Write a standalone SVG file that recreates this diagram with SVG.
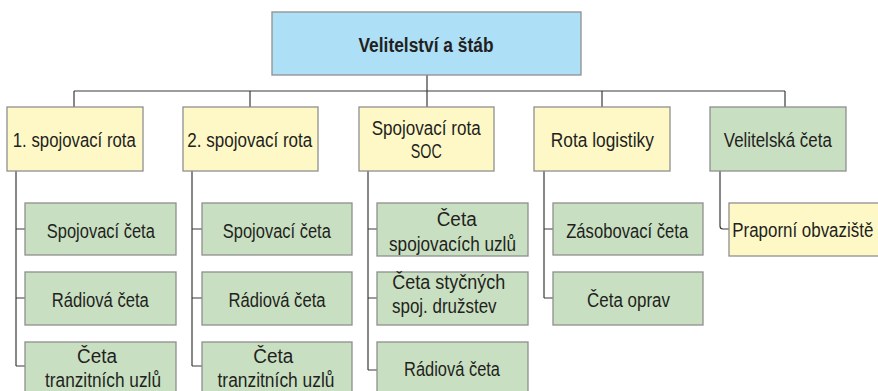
<svg xmlns="http://www.w3.org/2000/svg" width="878" height="391" viewBox="0 0 878 391">
<style>
.box{stroke:#8f8f8f;stroke-width:1.3}
.blue{fill:#ade0f7}
.yel{fill:#fef8c7}
.grn{fill:#c9dfc2}
.t{font-family:"Liberation Sans",Arial,sans-serif;font-size:20px;fill:#231f20;text-anchor:middle}
.s{text-anchor:start}
.b{font-weight:bold}
.ln{fill:none;stroke:#3a3a3a;stroke-width:1.2}
</style>
<rect width="878" height="391" fill="#fff"/>
<g id="connectors" class="ln">
<path d="M427 75V91M74 91H785M74 91V107M250 91V107M427 91V107M602 91V107M785 91V107"/>
<path d="M16 171V366M16 229H25M16 298H25M16 366H25"/>
<path d="M192 171V366M192 229H202M192 298H202M192 366H202"/>
<path d="M368 171V370M368 229H377M368 298H377M368 370H377"/>
<path d="M544 171V298M544 229H553M544 298H553"/>
<path d="M720 171V226Q720 229 723 229H729"/>
</g>
<g id="n-velitelstvi"><rect class="box blue" x="272" y="12" width="309" height="63"/><text class="t b" x="426" y="52" textLength="135" lengthAdjust="spacingAndGlyphs">Velitelství a štáb</text></g>
<g id="n-rota1"><rect class="box yel" x="7" y="107" width="136" height="64"/><text class="t" x="74.3" y="147" textLength="123" lengthAdjust="spacingAndGlyphs">1. spojovací rota</text></g>
<g id="n-rota2"><rect class="box yel" x="183" y="107" width="135" height="64"/><text class="t" x="249.8" y="147" textLength="125" lengthAdjust="spacingAndGlyphs">2. spojovací rota</text></g>
<g id="n-rotasoc"><rect class="box yel" x="359" y="107" width="135" height="64"/><text class="t" x="426.2" y="135" textLength="109" lengthAdjust="spacingAndGlyphs">Spojovací rota</text><text class="t" x="426.3" y="158" textLength="31" lengthAdjust="spacingAndGlyphs">SOC</text></g>
<g id="n-rotalog"><rect class="box yel" x="534" y="107" width="136" height="64"/><text class="t" x="602.3" y="147" textLength="103" lengthAdjust="spacingAndGlyphs">Rota logistiky</text></g>
<g id="n-velceta"><rect class="box grn" x="710" y="107" width="136" height="64"/><text class="t" x="777.8" y="147" textLength="108" lengthAdjust="spacingAndGlyphs">Velitelská četa</text></g>
<g id="n-c1-spoj"><rect class="box grn" x="25" y="203" width="151" height="52"/><text class="t" x="100.8" y="238" textLength="108" lengthAdjust="spacingAndGlyphs">Spojovací četa</text></g>
<g id="n-c1-rad"><rect class="box grn" x="25" y="272" width="151" height="53"/><text class="t" x="100.3" y="307" textLength="97" lengthAdjust="spacingAndGlyphs">Rádiová četa</text></g>
<g id="n-c1-tran"><rect class="box grn" x="25" y="342" width="151" height="55"/><text class="t" x="97" y="363" textLength="40" lengthAdjust="spacingAndGlyphs">Četa</text><text class="t" x="103" y="387" textLength="116" lengthAdjust="spacingAndGlyphs">tranzitních uzlů</text></g>
<g id="n-c2-spoj"><rect class="box grn" x="202" y="203" width="150" height="52"/><text class="t" x="276.8" y="238" textLength="108" lengthAdjust="spacingAndGlyphs">Spojovací četa</text></g>
<g id="n-c2-rad"><rect class="box grn" x="202" y="272" width="150" height="53"/><text class="t" x="277" y="307" textLength="97" lengthAdjust="spacingAndGlyphs">Rádiová četa</text></g>
<g id="n-c2-tran"><rect class="box grn" x="202" y="342" width="150" height="55"/><text class="t" x="273.3" y="363" textLength="40" lengthAdjust="spacingAndGlyphs">Četa</text><text class="t" x="276" y="387" textLength="117" lengthAdjust="spacingAndGlyphs">tranzitních uzlů</text></g>
<g id="n-c3-uzly"><rect class="box grn" x="377" y="203" width="151" height="53"/><text class="t" x="456.7" y="226" textLength="40" lengthAdjust="spacingAndGlyphs">Četa</text><text class="t" x="452.5" y="251" textLength="127" lengthAdjust="spacingAndGlyphs">spojovacích uzlů</text></g>
<g id="n-c3-styc"><rect class="box grn" x="377" y="272" width="151" height="53"/><text class="t s" x="392.3" y="289" textLength="113" lengthAdjust="spacingAndGlyphs">Četa styčných</text><text class="t s" x="392" y="313" textLength="104.6" lengthAdjust="spacingAndGlyphs">spoj. družstev</text></g>
<g id="n-c3-rad"><rect class="box grn" x="377" y="342" width="151" height="55"/><text class="t" x="452" y="376" textLength="96" lengthAdjust="spacingAndGlyphs">Rádiová četa</text></g>
<g id="n-c4-zas"><rect class="box grn" x="553" y="203" width="150" height="52"/><text class="t" x="627.2" y="238" textLength="122" lengthAdjust="spacingAndGlyphs">Zásobovací četa</text></g>
<g id="n-c4-opr"><rect class="box grn" x="553" y="272" width="150" height="53"/><text class="t" x="628.5" y="307" textLength="83" lengthAdjust="spacingAndGlyphs">Četa oprav</text></g>
<g id="n-c5-obv"><rect class="box yel" x="729" y="203" width="160" height="53"/><text class="t s" x="732.3" y="237" textLength="141" lengthAdjust="spacingAndGlyphs">Praporní obvaziště</text></g>
</svg>
